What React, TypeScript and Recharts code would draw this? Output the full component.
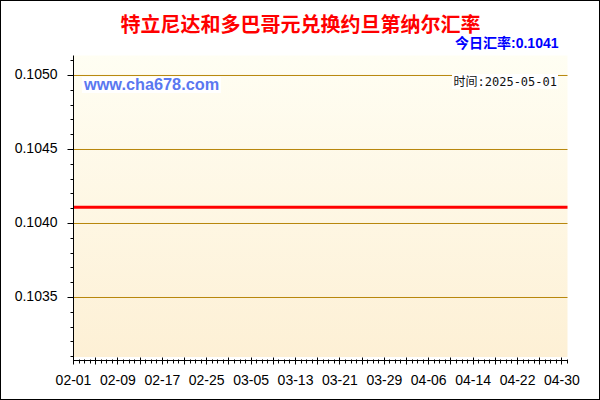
// TTD -> JOD exchange rate, daily close, 2025-02-01 .. 2025-05-01
import { LineChart, Line, XAxis, YAxis, CartesianGrid } from "recharts";

const TITLE = "特立尼达和多巴哥元兑换约旦第纳尔汇率";
const TODAY_RATE = "0.1041";
const TODAY = "2025-05-01";
const SITE = "www.cha678.com";

const FEB = [
  "02-01", "02-02", "02-03", "02-04", "02-05", "02-06", "02-07", "02-08", "02-09", "02-10",
  "02-11", "02-12", "02-13", "02-14", "02-15", "02-16", "02-17", "02-18", "02-19", "02-20",
  "02-21", "02-22", "02-23", "02-24", "02-25", "02-26", "02-27", "02-28",
];
const MAR = [
  "03-01", "03-02", "03-03", "03-04", "03-05", "03-06", "03-07", "03-08", "03-09", "03-10",
  "03-11", "03-12", "03-13", "03-14", "03-15", "03-16", "03-17", "03-18", "03-19", "03-20",
  "03-21", "03-22", "03-23", "03-24", "03-25", "03-26", "03-27", "03-28", "03-29", "03-30",
  "03-31",
];
const APR = [
  "04-01", "04-02", "04-03", "04-04", "04-05", "04-06", "04-07", "04-08", "04-09", "04-10",
  "04-11", "04-12", "04-13", "04-14", "04-15", "04-16", "04-17", "04-18", "04-19", "04-20",
  "04-21", "04-22", "04-23", "04-24", "04-25", "04-26", "04-27", "04-28", "04-29", "04-30",
];
const MAY = ["05-01"];
const DATES = [...FEB, ...MAR, ...APR, ...MAY];

// rate is flat for the whole period
const RATES = [
  0.10411, 0.10411, 0.10411, 0.10411, 0.10411, 0.10411, 0.10411, 0.10411, 0.10411, 0.10411,
  0.10411, 0.10411, 0.10411, 0.10411, 0.10411, 0.10411, 0.10411, 0.10411, 0.10411, 0.10411,
  0.10411, 0.10411, 0.10411, 0.10411, 0.10411, 0.10411, 0.10411, 0.10411,
  0.10411, 0.10411, 0.10411, 0.10411, 0.10411, 0.10411, 0.10411, 0.10411, 0.10411, 0.10411,
  0.10411, 0.10411, 0.10411, 0.10411, 0.10411, 0.10411, 0.10411, 0.10411, 0.10411, 0.10411,
  0.10411, 0.10411, 0.10411, 0.10411, 0.10411, 0.10411, 0.10411, 0.10411, 0.10411, 0.10411,
  0.10411,
  0.10411, 0.10411, 0.10411, 0.10411, 0.10411, 0.10411, 0.10411, 0.10411, 0.10411, 0.10411,
  0.10411, 0.10411, 0.10411, 0.10411, 0.10411, 0.10411, 0.10411, 0.10411, 0.10411, 0.10411,
  0.10411, 0.10411, 0.10411, 0.10411, 0.10411, 0.10411, 0.10411, 0.10411, 0.10411, 0.10411,
  0.10411,
];

const X_LABELS = ["02-01", "02-09", "02-17", "02-25", "03-05", "03-13", "03-21", "03-29", "04-06", "04-14", "04-22", "04-30"];
const Y_TICKS = [
  0.1031, 0.1032, 0.1033, 0.1034, 0.1035, 0.1036, 0.1037, 0.1038, 0.1039, 0.104,
  0.1041, 0.1042, 0.1043, 0.1044, 0.1045, 0.1046, 0.1047, 0.1048, 0.1049, 0.105, 0.1051,
];
const Y_GRID = [0.1035, 0.104, 0.1045, 0.105];
const Y_DOMAIN = [0.1030743, 0.105135];

const data = DATES.map((date, i) => ({ date, rate: RATES[i] }));

const TS = 6;  // tickSize
const TM = 10; // tickMargin
const AXIS_FONT = "'Liberation Sans', Arial, sans-serif";
const snap = (v: number) => Math.round(v - 0.5) + 0.5;
const isMajorY = (v: number) => Math.round(v * 10000) % 5 === 0;

function LeftTick(props: any) {
  const { x, y, payload } = props;
  const ax = x + TS + TM;
  const yy = snap(y);
  const major = isMajorY(payload.value);
  return (
    <g>
      <line x1={ax - (major ? 6 : 3)} x2={ax} y1={yy} y2={yy} stroke="#000" />
      {major && (
        <text x={x} y={y - 1} textAnchor="end" dominantBaseline="central" fontSize={14} fontFamily={AXIS_FONT} fill="#000">
          {payload.value.toFixed(4)}
        </text>
      )}
    </g>
  );
}

function RightTick(props: any) {
  const { x, y, payload } = props;
  const ax = x - TS - TM;
  const yy = snap(y);
  const major = isMajorY(payload.value);
  return <line x1={ax - (major ? 6 : 3)} x2={ax} y1={yy} y2={yy} stroke="#000" />;
}

function BottomTick(props: any) {
  const { x, y, payload } = props;
  const ay = y - TS - TM;
  const xx = snap(x);
  const i = DATES.indexOf(payload.value);
  const major = i % 4 === 0;
  return (
    <g>
      <line x1={xx} x2={xx} y1={ay - (major ? 3 : 1)} y2={ay + (major ? 4 : 3)} stroke="#000" />
      {X_LABELS.includes(payload.value) && (
        <text x={x} y={ay + 19.5} textAnchor="middle" dominantBaseline="central" fontSize={14} fontFamily={AXIS_FONT} fill="#000">
          {payload.value}
        </text>
      )}
    </g>
  );
}

function TopTick(props: any) {
  const { x, y, payload } = props;
  const ay = y + TS + TM;
  const xx = snap(x);
  const major = DATES.indexOf(payload.value) % 4 === 0;
  return <line x1={xx} x2={xx} y1={ay} y2={ay + (major ? 4 : 3)} stroke="#000" />;
}

export default function App() {
  return (
    <div style={{ position: "absolute", left: 0, top: 0, width: 600, height: 400, background: "#fff" }}>
      <LineChart width={600} height={400} data={data} margin={{ top: 55.5, right: 32.5, bottom: 9.5, left: 13.5 }}>
        <defs>
          <linearGradient id="plotBg" x1="0" y1="0" x2="0" y2="1">
            <stop offset="0" stopColor="#fffef3" />
            <stop offset="0.99" stopColor="#fdf0d5" />
            <stop offset="0.99" stopColor="#ffffff" />
            <stop offset="1" stopColor="#ffffff" />
          </linearGradient>
        </defs>
        <CartesianGrid fill="url(#plotBg)" fillOpacity={1} stroke="#b8860b" strokeOpacity={1} strokeWidth={1}
          horizontal vertical={false} horizontalValues={Y_GRID} />
        <XAxis dataKey="date" interval={0} height={30} tickSize={TS} tickMargin={TM}
          axisLine={{ stroke: "#000" }} tickLine={false} tick={<BottomTick />} />
        <XAxis xAxisId="top" orientation="top" dataKey="date" interval={0} height={0} tickSize={TS} tickMargin={TM}
          axisLine={{ stroke: "#000" }} tickLine={false} tick={<TopTick />} />
        <YAxis domain={Y_DOMAIN} ticks={Y_TICKS} interval={0} width={60} tickSize={TS} tickMargin={TM}
          allowDataOverflow axisLine={{ stroke: "#000" }} tickLine={false} tick={<LeftTick />} />
        <YAxis yAxisId="right" orientation="right" domain={Y_DOMAIN} ticks={Y_TICKS} interval={0} width={0}
          tickSize={TS} tickMargin={TM} allowDataOverflow axisLine={{ stroke: "#000" }} tickLine={false} tick={<RightTick />} />
        <Line type="linear" dataKey="rate" stroke="#ff0000" strokeWidth={3} dot={false} isAnimationActive={false} />
      </LineChart>
      <svg width={600} height={400} style={{ position: "absolute", left: 0, top: 0, pointerEvents: "none" }}>
        <text x={300.5} y={23} textAnchor="middle" dominantBaseline="central" fontSize={20} fontWeight="bold"
          fontFamily="'Noto Sans CJK SC', sans-serif" fill="#ff0000">{TITLE}</text>
        <text x={558.5} y={43} textAnchor="end" dominantBaseline="central" fontSize={14} fontWeight="bold"
          fontFamily="'Liberation Sans', 'Noto Sans CJK SC', sans-serif" fill="#0000ff">今日汇率:{TODAY_RATE}</text>
        <rect x={82} y={77} width={139} height={16} fill="#fff" />
        <text x={84} y={84} dominantBaseline="central" fontSize={16.3} fontWeight="bold"
          fontFamily="'Liberation Sans', sans-serif" fill="#5a78f0">{SITE}</text>
        <rect x={452} y={74} width={106} height={15} fill="#fff" />
        <text x={453.5} y={81.5} dominantBaseline="central" fontSize={12}
          fontFamily="'DejaVu Sans Mono', 'Noto Sans CJK SC', monospace" fill="#111">时间:{TODAY}</text>
        <rect x={0.5} y={0.5} width={599} height={399} fill="none" stroke="#000" />
      </svg>
    </div>
  );
}
